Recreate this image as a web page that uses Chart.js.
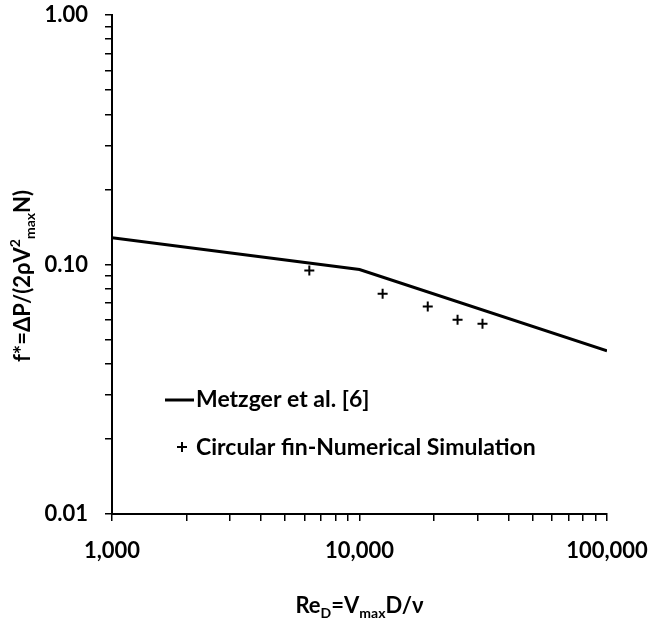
<!DOCTYPE html>
<html>
<head>
<meta charset="utf-8">
<script src="https://cdn.jsdelivr.net/npm/chart.js@4/dist/chart.umd.min.js"></script>
<style>
  html, body { margin: 0; padding: 0; background: #fff; }
  #wrap { width: 650px; height: 622px; }
</style>
</head>
<body>
<div id="wrap"><canvas id="chart" width="650" height="622"></canvas></div>
<script>
// data
const lineRe = [1000, 10000, 100000];
const lineF = [0.128, 0.0955, 0.0451];
const simRe = [6270, 12400, 18870, 24900, 31400];
const simF = [0.0946, 0.0764, 0.0678, 0.0601, 0.0579];
const seriesNames = ['Metzger et al. [6]', 'Circular fin-Numerical Simulation'];
const xTickLabels = { 1000: '1,000', 10000: '10,000', 100000: '100,000' };
const yTickLabels = { 0.01: '0.01', 0.1: '0.10', 1: '1.00' };

const FONT = 'Lato, "Liberation Sans", sans-serif';

// decade ticks plus 2..9 minor marks
function logTicks(labels) {
    const decades = Object.keys(labels).map(Number).sort((a, b) => a - b);
    const out = [];
    decades.forEach((d, i) => {
        out.push({ value: d });
        if (i < decades.length - 1) {
            for (let k = 2; k <= 9; k++) out.push({ value: +(d * k).toPrecision(6) });
        }
    });
    return out;
}

function drawRich(ctx, parts, x, y) {
    // parts: [text, kind] kind: '' | 'sub' | 'sup'
    const big = 'bold 22px ' + FONT, small = 'bold 14px ' + FONT;
    let total = 0;
    parts.forEach(([t, k]) => { ctx.font = k ? small : big; total += ctx.measureText(t).width; });
    let cx = x - total / 2;
    ctx.textBaseline = 'middle';
    ctx.textAlign = 'left';
    parts.forEach(([t, k]) => {
        ctx.font = k ? small : big;
        const dy = k === 'sub' ? 7 : k === 'sup' ? -8 : 0;
        ctx.fillText(t, cx, y + dy);
        cx += ctx.measureText(t).width;
    });
}

const extras = {
    id: 'extras',
    afterDraw(chart) {
        const ctx = chart.ctx;
        const area = chart.chartArea;
        ctx.save();
        ctx.fillStyle = '#000';

        // x title
        drawRich(ctx, [['Re', ''], ['D', 'sub'], ['=V', ''], ['max', 'sub'], ['D/\u03bd', '']],
            (area.left + area.right) / 2, 606);

        // y title
        ctx.save();
        ctx.translate(23, 276);
        ctx.rotate(-Math.PI / 2);
        drawRich(ctx, [['f*=\u0394P/(2\u03c1V', ''], ['2', 'sup'], ['max', 'sub'], ['N)', '']], 0, 0);
        ctx.restore();

        // legend inside the plot
        ctx.strokeStyle = '#000';
        ctx.lineWidth = 3;
        ctx.beginPath();
        ctx.moveTo(165, 400);
        ctx.lineTo(194, 400);
        ctx.stroke();
        ctx.lineWidth = 2;
        ctx.beginPath();
        ctx.moveTo(177, 447); ctx.lineTo(187, 447);
        ctx.moveTo(182, 442); ctx.lineTo(182, 452);
        ctx.stroke();
        ctx.font = 'bold 23px ' + FONT;
        ctx.textAlign = 'left';
        ctx.textBaseline = 'middle';
        ctx.fillText(seriesNames[0], 196, 400);
        ctx.fillText(seriesNames[1], 196, 448);
        ctx.restore();
    }
};

new Chart(document.getElementById('chart').getContext('2d'), {
    type: 'scatter',
    data: {
        datasets: [{
            label: seriesNames[0],
            data: lineRe.map((x, i) => ({ x, y: lineF[i] })),
            showLine: true,
            borderColor: '#000',
            borderWidth: 3,
            pointRadius: 0
        }, {
            label: seriesNames[1],
            data: simRe.map((x, i) => ({ x, y: simF[i] })),
            pointStyle: 'cross',
            pointRadius: 5,
            borderColor: '#000',
            borderWidth: 2
        }]
    },
    options: {
        responsive: false,
        animation: false,
        layout: { padding: { top: 15, right: 43, left: 0, bottom: 0 } },
        plugins: {
            legend: { display: false },
            tooltip: { enabled: false }
        },
        scales: {
            x: {
                type: 'logarithmic',
                min: 1000,
                max: 100000,
                afterFit: s => { s.height = 108; s.paddingLeft = 0; s.paddingRight = 0; },
                afterBuildTicks: s => { s.ticks = logTicks(xTickLabels); },
                border: { display: true, color: '#000', width: 2 },
                grid: { drawOnChartArea: false, drawTicks: true, tickLength: 7, color: '#000', lineWidth: 1.5 },
                ticks: {
                    autoSkip: false,
                    maxRotation: 0,
                    padding: 17,
                    color: '#000',
                    font: { family: FONT, size: 22, weight: 'bold' },
                    callback: v => xTickLabels[v] || ''
                }
            },
            y: {
                type: 'logarithmic',
                min: 0.01,
                max: 1,
                afterFit: s => { s.width = 112; s.paddingTop = 0; s.paddingBottom = 0; },
                afterBuildTicks: s => { s.ticks = logTicks(yTickLabels); },
                border: { display: true, color: '#000', width: 2 },
                grid: { drawOnChartArea: false, drawTicks: true, tickLength: 7, color: '#000', lineWidth: 1.5 },
                ticks: {
                    autoSkip: false,
                    padding: 17,
                    color: '#000',
                    font: { family: FONT, size: 22, weight: 'bold' },
                    callback: v => yTickLabels[v] || ''
                }
            }
        }
    },
    plugins: [extras]
});
</script>
</body>
</html>
